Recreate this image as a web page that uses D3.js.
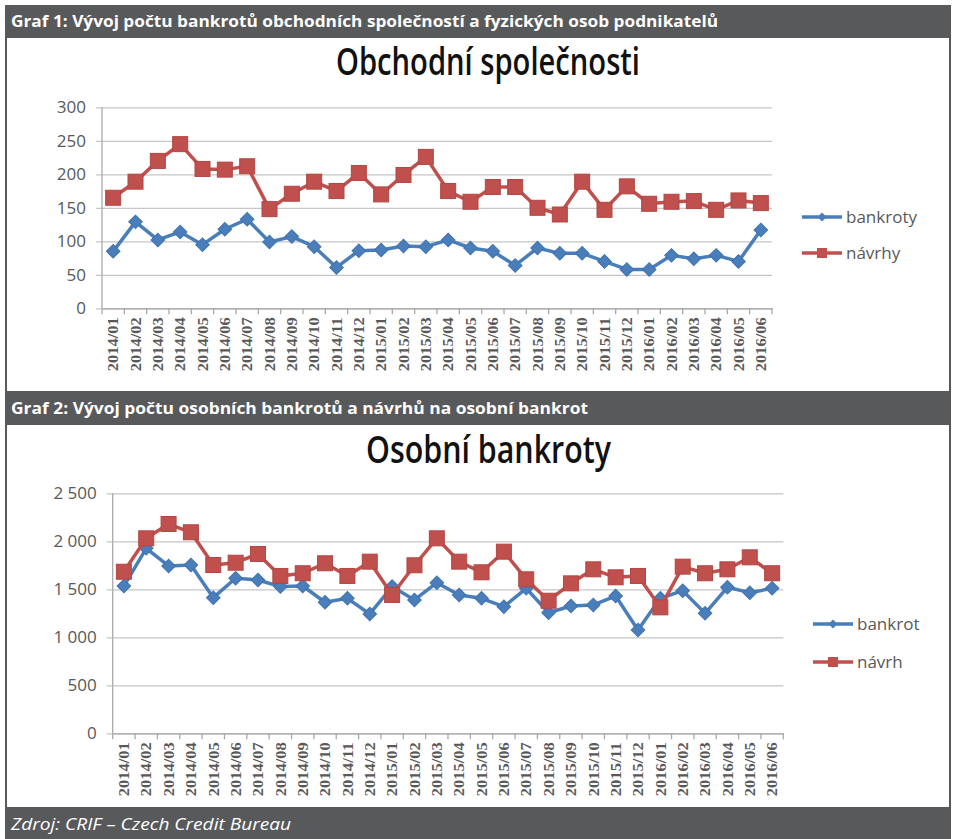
<!DOCTYPE html>
<html>
<head>
<meta charset="utf-8">
<script src="https://cdn.jsdelivr.net/npm/d3@7/dist/d3.min.js"></script>
<style>
  body { margin: 0; background: #fff; }
  svg { display: block; }
</style>
</head>
<body>
<svg id="c" width="955" height="839"></svg>
<script>
// ---------- DATA ----------
const months = ["2014/01","2014/02","2014/03","2014/04","2014/05","2014/06","2014/07","2014/08","2014/09","2014/10","2014/11","2014/12",
                "2015/01","2015/02","2015/03","2015/04","2015/05","2015/06","2015/07","2015/08","2015/09","2015/10","2015/11","2015/12",
                "2016/01","2016/02","2016/03","2016/04","2016/05","2016/06"];

const firmBankroty = [85,129,102,114,95,118,133,99,107,92,61,86,87,93,92,102,90,85,64,90,82,82,70,58,58,79,74,79,70,117];
const firmNavrhy   = [165,189,220,245,208,207,212,148,171,189,175,202,170,199,226,175,159,181,181,150,140,189,147,182,156,159,160,147,161,157];
const firmTicks    = [0,50,100,150,200,250,300];

const osobniBankrot = [1534,1927,1743,1753,1413,1615,1597,1528,1534,1365,1406,1243,1528,1389,1569,1441,1406,1319,1510,1256,1326,1337,1430,1076,1406,1486,1250,1521,1465,1510];
const osobniNavrh   = [1683,2031,2180,2094,1753,1777,1868,1639,1667,1771,1639,1788,1441,1750,2031,1788,1677,1892,1604,1381,1562,1708,1625,1639,1312,1736,1667,1708,1833,1667];
const osobniTicks   = [0,500,1000,1500,2000,2500];
const osobniTickLabels = ["0","500","1 000","1 500","2 000","2 500"];

const header1 = "Graf 1: Vývoj počtu bankrotů obchodních společností a fyzických osob podnikatelů";
const header2 = "Graf 2: Vývoj počtu osobních bankrotů a návrhů na osobní bankrot";
const footer  = "Zdroj: CRIF – Czech Credit Bureau";
const title1 = "Obchodní společnosti";
const title2 = "Osobní bankroty";
const legend1 = ["bankroty","návrhy"];
const legend2 = ["bankrot","návrh"];

// ---------- STYLE ----------
const BLUE = "#4a7ebb", RED = "#c0504d", BAR = "#58595b", TXT = "#595959";
const svg = d3.select("#c");

// frame & bars
svg.append("rect").attr("x",5).attr("y",5).attr("width",946).attr("height",33).attr("fill",BAR);
svg.append("rect").attr("x",5).attr("y",391).attr("width",946).attr("height",34).attr("fill",BAR);
svg.append("rect").attr("x",5).attr("y",807).attr("width",946).attr("height",32).attr("fill",BAR);
[[6,38,6,391],[950,38,950,391],[6,425,6,807],[950,425,950,807]].forEach(l=>{
  svg.append("line").attr("x1",l[0]).attr("y1",l[1]).attr("x2",l[2]).attr("y2",l[3])
    .attr("stroke",BAR).attr("stroke-width",2);
});

function headerText(t, x, y, len, italic) {
  svg.append("text").attr("x",x).attr("y",y).text(t)
    .attr("fill","#fff")
    .attr("font-family","'Open Sans', sans-serif")
    .attr("font-size", italic ? 17 : 16.5)
    .attr("font-weight", italic ? 400 : 700)
    .attr("font-style", italic ? "italic" : "normal")
    .attr("textLength", len).attr("lengthAdjust","spacingAndGlyphs");
}
headerText(header1, 11, 27, 707, false);
headerText(header2, 11, 414, 577, false);
headerText(footer, 11, 830, 280, true);

function drawChart(cfg) {
  const x = d3.scaleBand().domain(months).range([cfg.x0, cfg.x1]).padding(0);
  const y = d3.scaleLinear().domain([0, cfg.max]).range([cfg.y0, cfg.yTop]);
  const g = svg.append("g");

  // title
  g.append("text").attr("x", (cfg.tx0 + cfg.tx1)/2).attr("y", cfg.ty).text(cfg.title)
    .attr("text-anchor","middle").attr("fill","#111")
    .attr("font-family","'Open Sans', sans-serif").attr("font-weight",600).attr("font-size",37)
    .attr("textLength", cfg.tx1 - cfg.tx0).attr("lengthAdjust","spacingAndGlyphs");

  // gridlines + y axis
  const yAxis = d3.axisLeft(y).tickValues(cfg.ticks)
    .tickSize(-(cfg.x1 - cfg.x0)).tickPadding(16)
    .tickFormat((d,i) => cfg.tickLabels[i]);
  const ya = g.append("g").attr("transform",`translate(${cfg.x0},0)`).call(yAxis);
  ya.select(".domain").remove();
  ya.selectAll(".tick line").attr("stroke","#c6c6c6").attr("stroke-width",1.3).attr("x1",-6);
  ya.selectAll(".tick text").attr("fill",TXT).attr("font-family","'Open Sans', sans-serif").attr("font-size",17);
  g.append("line").attr("x1",cfg.x0).attr("x2",cfg.x0).attr("y1",cfg.yTop).attr("y2",cfg.y0)
    .attr("stroke","#a9a9a9").attr("stroke-width",1.3);

  // x axis
  const xAxis = d3.axisBottom(x).tickSize(0).tickPadding(0);
  const xa = g.append("g").attr("transform",`translate(0,${cfg.y0})`).call(xAxis);
  xa.select(".domain").attr("stroke","#a9a9a9").attr("stroke-width",1.3);
  xa.selectAll(".tick text")
    .attr("transform","rotate(-90)")
    .attr("x",-9).attr("y",0).attr("dy","0.36em")
    .attr("text-anchor","end")
    .attr("fill",TXT).attr("font-family","'Liberation Serif', serif").attr("font-weight",700).attr("font-size",14.5)
    .attr("textLength",54).attr("lengthAdjust","spacingAndGlyphs");
  // tick marks at category boundaries
  const bounds = months.map(m => x(m)).concat([cfg.x1]);
  xa.selectAll(".bnd").data(bounds).enter().append("line")
    .attr("x1",d=>d).attr("x2",d=>d).attr("y1",0).attr("y2",6)
    .attr("stroke","#a9a9a9").attr("stroke-width",1.3);

  const cx = m => x(m) + x.bandwidth()/2;
  const line = d3.line().x((d,i)=>cx(months[i])).y(d=>y(d));

  // series 1 (blue diamonds)
  g.append("path").datum(cfg.s1).attr("d",line).attr("fill","none")
    .attr("stroke",BLUE).attr("stroke-width",3.5).attr("stroke-linejoin","round");
  g.selectAll(".dia").data(cfg.s1).enter().append("path")
    .attr("d", d3.symbol().type(d3.symbolSquare).size(92))
    .attr("transform",(d,i)=>`translate(${cx(months[i])},${y(d)}) rotate(45)`)
    .attr("fill",BLUE).attr("stroke","#3f73b0").attr("stroke-width",1);

  // series 2 (red squares)
  g.append("path").datum(cfg.s2).attr("d",line).attr("fill","none")
    .attr("stroke",RED).attr("stroke-width",3.5).attr("stroke-linejoin","round");
  g.selectAll(".sq").data(cfg.s2).enter().append("rect")
    .attr("x",(d,i)=>cx(months[i]) - 7.5).attr("y",d=>y(d) - 7.5)
    .attr("width",15).attr("height",15)
    .attr("fill",RED).attr("stroke","#b24643").attr("stroke-width",1);

  // legend
  const lg = g.append("g");
  [[BLUE, cfg.legend[0], cfg.ly1, "dia"], [RED, cfg.legend[1], cfg.ly2, "sq"]].forEach(([c,t,ly,k])=>{
    lg.append("line").attr("x1",cfg.lx).attr("x2",cfg.lx+40).attr("y1",ly).attr("y2",ly)
      .attr("stroke",c).attr("stroke-width",3.5);
    if (k === "dia") {
      lg.append("path").attr("d", d3.symbol().type(d3.symbolSquare).size(40))
        .attr("transform",`translate(${cfg.lx+20},${ly}) rotate(45)`).attr("fill",c);
    } else {
      lg.append("rect").attr("x",cfg.lx+15).attr("y",ly-5).attr("width",10).attr("height",10).attr("fill",c);
    }
    lg.append("text").attr("x",cfg.lx+44).attr("y",ly+6).text(t)
      .attr("fill",TXT).attr("font-family","'Open Sans', sans-serif").attr("font-size",17);
  });
}

drawChart({
  x0:102, x1:772, y0:308.3, yTop:107.3, max:300,
  ticks: firmTicks, tickLabels: firmTicks.map(String),
  s1: firmBankroty, s2: firmNavrhy,
  title: title1, tx0:336, tx1:640, ty:75,
  legend: legend1, lx:802, ly1:217, ly2:253
});

drawChart({
  x0:112.7, x1:783.3, y0:733.3, yTop:493.3, max:2500,
  ticks: osobniTicks, tickLabels: osobniTickLabels,
  s1: osobniBankrot, s2: osobniNavrh,
  title: title2, tx0:366, tx1:611, ty:463,
  legend: legend2, lx:813, ly1:624, ly2:662
});
</script>
</body>
</html>
